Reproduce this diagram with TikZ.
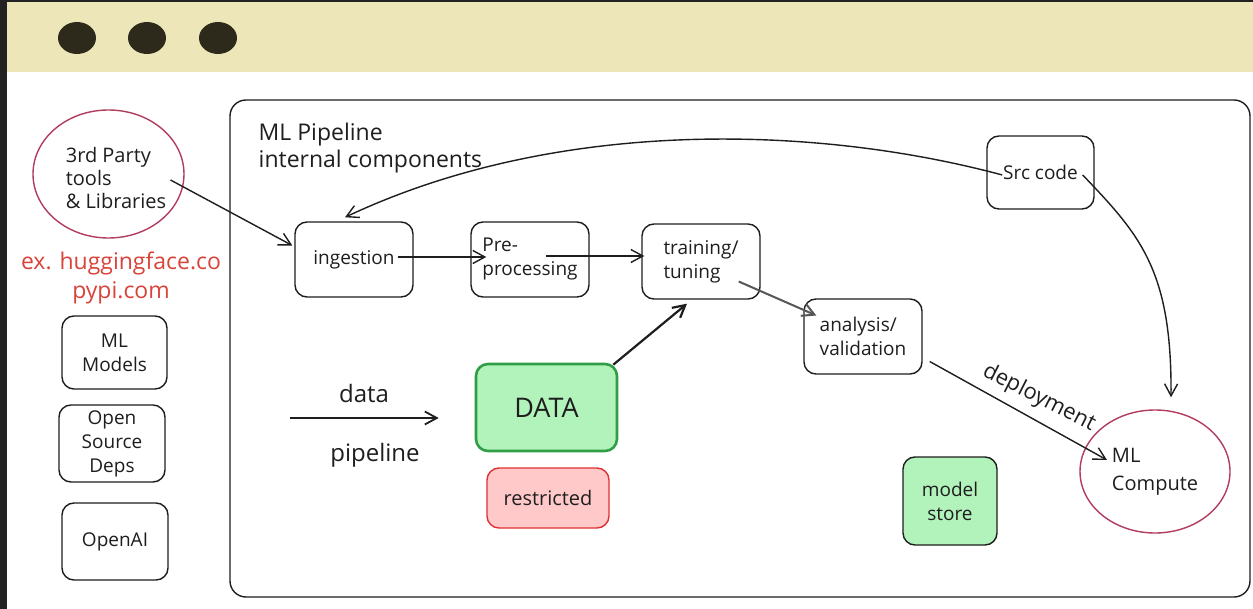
\documentclass[tikz,border=0pt]{standalone}
\usepackage{fontspec}
\setmainfont{Open Sans}
\usetikzlibrary{calc,arrows.meta,shapes.geometric}
\definecolor{ink}{HTML}{1E1E1E}
\definecolor{frame}{HTML}{222222}
\definecolor{banner}{HTML}{ECE6B9}
\definecolor{dotc}{HTML}{2E2A1B}
\definecolor{rim}{HTML}{B23C5E}
\definecolor{redtxt}{HTML}{D9433A}
\definecolor{grfill}{HTML}{B2F2BB}
\definecolor{grline}{HTML}{2F9E44}
\definecolor{rdfill}{HTML}{FFC9C9}
\definecolor{rdline}{HTML}{E03131}

\begin{document}
\begin{tikzpicture}[x=.5pt,y=-.5pt,line width=.7pt,
  box/.style={draw=ink,text=ink,rounded corners=6pt,align=center,inner sep=0pt,font=\fontsize{9.5}{12}\selectfont},
  stage/.style={box,minimum width=59pt,minimum height=37.5pt},
  blob/.style={draw=rim,ellipse,inner sep=0pt},
  arr/.style={draw=ink,-{Straight Barb[length=6pt,width=6.5pt]}}]
\useasboundingbox (0,0) rectangle (1253,609);
\fill[frame] (0,0) rectangle (1253,609);
\fill[white] (7,2) rectangle (1253,609);
\fill[banner] (7,2) rectangle (1253,72);
\foreach \x in {77,147,218} \fill[dotc] (\x,38) ellipse [x radius=9.5pt,y radius=8pt];
\draw[ink,rounded corners=8pt] (230,100) rectangle (1250,597);
\node[anchor=west,align=left,inner sep=0pt,text=ink,font=\fontsize{11.5}{13.5}\selectfont] (title) at (258,148) {ML Pipeline\\internal components};
% outside the pipeline
\node[blob,minimum width=75.5pt,minimum height=64pt] (third) at (108.5,174) {};
\node[align=left,text=ink,font=\fontsize{10}{11.5}\selectfont] (thirdtxt) at (116,178) {3rd Party\\tools\\\& Libraries};
\node[text=redtxt,align=center,font=\fontsize{11.5}{14.5}\selectfont] (hf) at (121,278) {ex. huggingface.co\\pypi.com};
\node[box,minimum width=52.5pt,minimum height=36.5pt] (mlmodels) at (114.5,352.5) {ML\\Models};
\node[box,minimum width=53pt,minimum height=38.5pt] (osdeps) at (112,443.5) {Open\\Source\\Deps};
\node[box,minimum width=53pt,minimum height=38.5pt] (openai) at (115,541.5) {OpenAI};
% pipeline stages
\node[stage] (ingest) at (354,259.5) {ingestion};
\node[stage,align=left] (prep) at (530,259.5) {Pre-\\processing};
\node[stage,align=left] (train) at (701,261.5) {training/\\tuning};
\node[stage,align=left] (analysis) at (863,336.5) {analysis/\\validation};
\node[box,minimum width=53.5pt,minimum height=36.5pt] (src) at (1040.5,172.5) {Src code};
\node[box,draw=grline,fill=grfill,line width=1.3pt,minimum width=70.5pt,minimum height=43.5pt,font=\fontsize{13.5}{16}\selectfont] (data) at (546.5,407.5) {DATA};
\node[box,draw=rdline,fill=rdfill,minimum width=61pt,minimum height=30pt,font=\fontsize{10}{12}\selectfont] (restricted) at (548,498) {restricted};
\node[box,fill=grfill,minimum width=47pt,minimum height=44pt] (store) at (950,501) {model\\store};
\node[blob,minimum width=75pt,minimum height=61.5pt,align=left,text=ink,font=\fontsize{10}{14}\selectfont] (mlc) at (1155,471.5) {ML\\Compute};
% connectors
\draw[arr] ($(third.center)+(62,6)$) -- ($(ingest.west)+(-2,-14)$);
\draw[arr] ($(ingest.east)+(-16,-2.5)$) -- ($(prep.west)+(16,-2.5)$);
\draw[arr] ($(prep.west)+(76,-3.5)$) -- ($(train.west)+(3,-5.5)$);
\draw[arr,draw=ink!75,line width=1pt] ($(train.east)+(-22,20)$) -- ($(analysis.west)+(13,-21)$);
\draw[arr,line width=1.1pt] ($(data.north east)+(-5,2)$) -- ($(train.south)+(-14,4)$);
\draw[arr] ($(analysis.east)+(7,25)$) -- ($(mlc.center)+(-48,-11.5)$);
\node[rotate=-27,inner sep=0pt,text=ink,font=\fontsize{11}{13}\selectfont] (deploy) at (1039,398) {deployment};
\draw[arr] ($(src.west)+(16,2.5)$) .. controls (820,126) and (560,116) .. ($(ingest.north)+(-9,-4)$);
\draw[arr] ($(src.east)+(-12,2.5)$) .. controls (1140,235) and (1172,270) .. ($(mlc.north)+(16,-12)$);
\coordinate (feed) at (290,418);
\draw[arr,line width=.9pt] (feed) -- ($(data.west)+(-36,10.5)$);
\node[text=ink,font=\fontsize{12}{14}\selectfont] (dlabel) at (364,393) {data};
\node[text=ink,font=\fontsize{12}{14}\selectfont] (plabel) at (375,455) {pipeline};
\end{tikzpicture}
\end{document}
